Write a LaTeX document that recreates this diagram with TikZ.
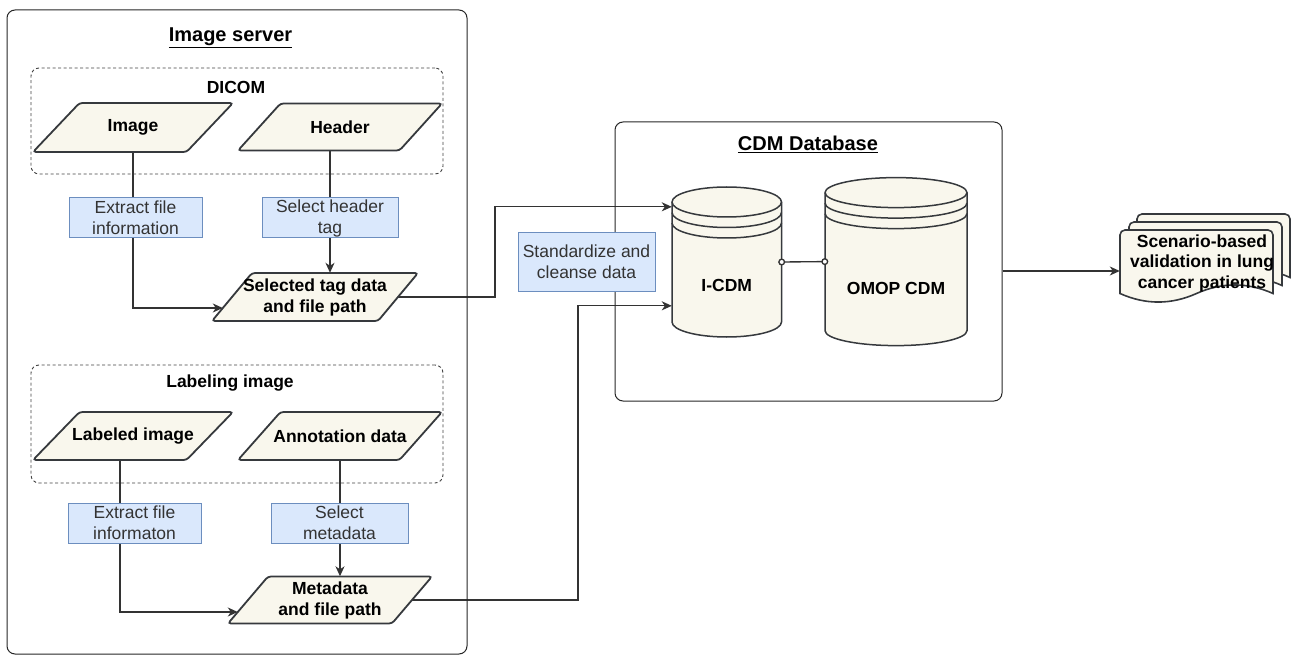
\documentclass[tikz,border=0pt]{standalone}
\usepackage{fontspec}
\setmainfont{Liberation Sans}
\usetikzlibrary{arrows.meta,calc}
\definecolor{beige}{HTML}{F9F7ED}
\definecolor{shapeln}{HTML}{36393D}
\definecolor{bluef}{HTML}{DAE8FC}
\definecolor{bluel}{HTML}{6C8EBF}
\definecolor{lnc}{HTML}{333333}
\pgfdeclarelayer{back}
\pgfdeclarelayer{mid}
\pgfsetlayers{back,mid,main}
\tikzset{
  container/.style={draw=black!85, line width=1pt, rounded corners=8pt, inner sep=0pt},
  groupbox/.style={draw=black!75, line width=0.9pt, dash pattern=on 3pt off 2.5pt, rounded corners=8pt, inner sep=0pt},
  ttl/.style={font=\fontsize{20}{24}\selectfont\bfseries, inner sep=0pt},
  gttl/.style={font=\fontsize{17.5}{21}\selectfont\bfseries, inner sep=0pt},
  parafill/.style={fill=beige, draw=shapeln, line width=1.8pt, rounded corners=3pt},
  paratext/.style={inner sep=0pt, align=center, font=\fontsize{17.5}{21}\selectfont\bfseries},
  bluebox/.style={fill=bluef, draw=bluel, line width=1pt, align=center, inner sep=0pt, text=black!80, font=\fontsize{17.5}{21}\selectfont},
  conn/.style={draw=lnc, line width=1.35pt},
  arr/.style={conn, -{Stealth[length=10pt,width=9pt,inset=3pt]}},
  cylfill/.style={fill=beige, draw=shapeln, line width=1.5pt},
  docfill/.style={fill=beige, draw=shapeln, line width=1.6pt},
}
% parallelogram: name, cx, cy, half side, half offset, half height, text
\newcommand{\paral}[7]{%
  \path[parafill] ({#2-#4-#5},{#3+#6}) -- ({#2+#4-#5},{#3+#6}) -- ({#2+#4+#5},{#3-#6}) -- ({#2-#4+#5},{#3-#6}) -- cycle;
  \node[paratext, minimum width={2*#4}, minimum height={2*#6}] (#1) at (#2,#3) {#7};
}
% cylinder: name, cx, ytop, ybot, rx, text, text y
\newcommand{\cyl}[7]{%
  \path[cylfill] ({#2-#5},{#3+15}) arc[start angle=180,end angle=0,x radius=#5pt,y radius=15pt]
     -- ({#2+#5},{#4-15}) arc[start angle=0,end angle=-180,x radius=#5pt,y radius=15pt] -- cycle;
  \draw[shapeln, line width=1.5pt]
     ({#2-#5},{#3+15}) arc[start angle=180,end angle=360,x radius=#5pt,y radius=15pt]
     ({#2-#5},{#3+25.5}) arc[start angle=180,end angle=360,x radius=#5pt,y radius=15pt]
     ({#2-#5},{#3+36}) arc[start angle=180,end angle=360,x radius=#5pt,y radius=15pt];
  \node[inner sep=0pt, minimum width={2*#5}, minimum height={#4-#3}] (#1) at (#2,{(#3+#4)/2}) {};
  \node[paratext] (#1-t) at (#2,#7) {#6};
}
% document page, shifted
\newcommand{\docpage}[2]{%
  \path[docfill, shift={(#1,#2)}] (1120,293.5) [rounded corners=5pt] -- (1120,230) -- (1273,230) [sharp corners] -- (1273,293.5)
     .. controls (1247.5,282.1) and (1222,282.1) .. (1196.5,293.5)
     .. controls (1171,304.9) and (1145.5,304.9) .. (1120,293.5) -- cycle;
}
\begin{document}
\begin{tikzpicture}[x=1pt,y=-1pt]
\useasboundingbox (0,0) rectangle (1291,655);

% containers
\node[container, minimum width=460, minimum height=644] (srv) at (237,332) {};
\node[ttl] (srvt) at (230.5,38) {\underline{Image server}};
\node[groupbox, minimum width=412, minimum height=106] (dicom) at (237,121) {};
\node[gttl] (dicomt) at (236,87) {DICOM};
\node[groupbox, minimum width=412, minimum height=118] (labg) at (237,424) {};
\node[gttl] (labgt) at (230,383) {Labeling image};
\node[container, minimum width=387, minimum height=279] (cdm) at (808.5,261.5) {};
\node[ttl] (cdmt) at (808,144) {\underline{CDM Database}};

% parallelograms
\paral{img}{133}{127.5}{76.75}{23.25}{24.5}{Image}
\paral{hdr}{340}{127}{80.75}{21.25}{23.5}{Header}
\paral{limg}{133}{436}{76.75}{23.25}{24}{Labeled image}
\paral{ann}{340}{436}{80.75}{21.25}{24}{Annotation data}
\paral{sel}{315}{297}{83}{20}{24}{Selected tag data\\and file path}
\paral{meta}{330}{600}{82}{20}{23.5}{Metadata\\and file path}

% cylinders
\cyl{icdm}{726.75}{187}{337}{54.75}{I-CDM}{285}
\cyl{omop}{896}{177.6}{345.6}{71}{OMOP CDM}{288}

% document stack
\docpage{17}{-16}
\docpage{9}{-8}
\docpage{0}{0}
\node[inner sep=0pt, minimum width=153, minimum height=73] (doc) at (1196.5,266.5) {};
\node[paratext, font=\fontsize{17.5}{20.5}\selectfont\bfseries] (doct) at (1202,263) {Scenario-based\\validation in lung\\cancer patients};

% coordinates
\coordinate (selin) at (222.8,308);
\coordinate (metin) at (237.8,612);
\coordinate (in1) at ($(icdm.north west)+(0,20)$);
\coordinate (in2) at ($(icdm.north west)+(0,119)$);
\coordinate (j1) at (495,0);
\coordinate (j2) at (578,0);
\coordinate (docin) at ($(doc.west)+(0,4.5)$);

% blue labels
\node[bluebox, minimum width=133, minimum height=40] (ext1) at (135.5,218) {Extract file\\information};
\node[bluebox, minimum width=136, minimum height=40] (sel1) at (330,218) {Select header\\tag};
\node[bluebox, minimum width=133, minimum height=40] (ext2) at (134.5,523) {Extract file\\informaton};
\node[bluebox, minimum width=137, minimum height=40] (sel2) at (339.5,523) {Select\\metadata};
\node[bluebox, minimum width=137, minimum height=59.5] (std) at (586.5,262) {Standardize and\\cleanse data};

% connectors
\begin{pgfonlayer}{mid}
\draw[arr] (img.south) |- (selin);
\draw[arr] (hdr.south -| sel1) -- (sel1 |- sel.north);
\draw[arr] ([xshift=-13pt]limg.south) |- (metin);
\draw[arr] (ann.south) -- (ann.south |- meta.north);
\draw[arr] (sel.east) -| (j1 |- in1) -- (in1);
\draw[arr] (meta.east) -| (j2 |- in2) -- (in2);
\draw[arr] (cdm.east |- docin) -- (docin);
\end{pgfonlayer}
\draw[conn, shorten <=-3.5pt, shorten >=-3.5pt, {Circle[length=7pt,fill=white]}-{Circle[length=7pt,fill=white]}] (icdm.east) -- (omop.west);
\end{tikzpicture}
\end{document}
